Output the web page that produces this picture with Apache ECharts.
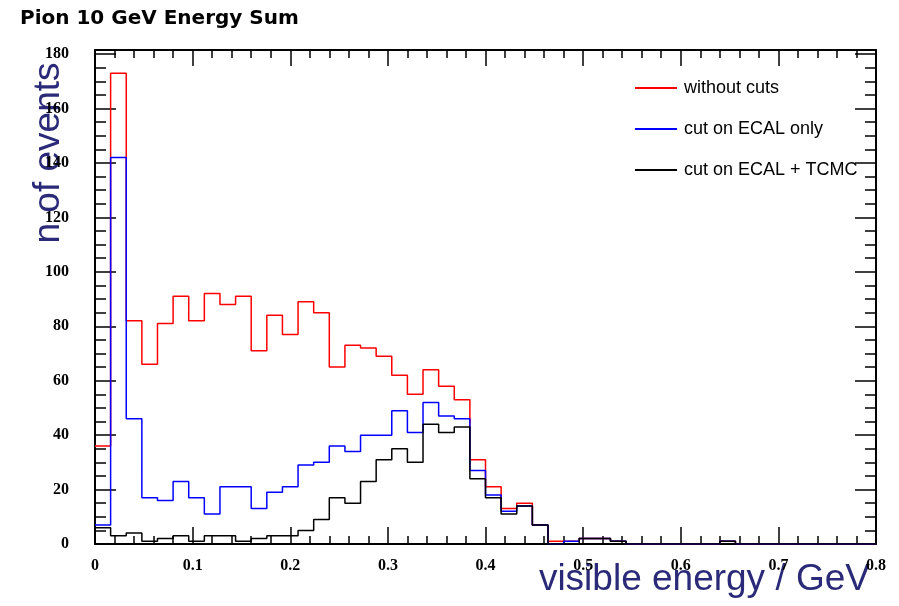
<!DOCTYPE html>
<html>
<head>
<meta charset="utf-8">
<script src="https://cdn.jsdelivr.net/npm/echarts@6/dist/echarts.min.js"></script>
<style>html,body{margin:0;padding:0;background:#fff;}#c{width:899px;height:606px;}</style>
</head>
<body>
<div id="c"></div>
<script>
// Histogram definition: 50 bins from 0 to 0.8 GeV
const xMin = 0, xMax = 0.8, nBins = 50;
const xTickLabels = ['0','0.1','0.2','0.3','0.4','0.5','0.6','0.7','0.8'];
const seriesNames = ['without cuts', 'cut on ECAL only', 'cut on ECAL + TCMC'];
// counts per bin
const withoutCuts = [36,173,82,66,81,91,82,92,88,91,71,84,77,89,85,65,73,72,69,62,55,64,58,53,31,21,13,15,7,1,1,2,2,1,0,0,0,0,0,0,1,0,0,0,0,0,0,0,0,0];
const cutEcal     = [7,142,46,17,16,23,17,11,21,21,13,19,21,29,30,36,34,40,40,49,41,52,47,46,27,18,12,14,7,0,1,2,2,1,0,0,0,0,0,0,1,0,0,0,0,0,0,0,0,0];
const cutEcalTcmc = [6,3,4,1,2,3,1,3,3,1,2,3,3,5,9,17,15,23,31,35,30,44,41,43,24,17,11,14,7,0,0,2,2,1,0,0,0,0,0,0,1,0,0,0,0,0,0,0,0,0];

const binW = (xMax - xMin) / nBins;
function stepData(vals) {
  const d = vals.map((v, i) => [xMin + i * binW, v]);
  d.push([xMax, vals[vals.length - 1]]);
  return d;
}

const chart = echarts.init(document.getElementById('c'), null, {renderer: 'canvas'});
const black = '#000';
const tickFont = {fontFamily: 'Liberation Serif', fontWeight: 'bold', fontSize: 16, color: black};
function xAx(pos, labels, major, minor) {
  return {
    type: 'value', position: pos, min: xMin, max: xMax, interval: 0.1,
    axisLine: {show: true, onZero: false, lineStyle: {color: black, width: 2}},
    axisTick: {show: true, inside: true, length: major, lineStyle: {color: black, width: 1.5}},
    minorTick: {show: true, splitNumber: 5, length: minor, lineStyle: {color: black, width: 1.5}},
    splitLine: {show: false}, minorSplitLine: {show: false},
    axisLabel: Object.assign({show: labels, margin: 14, formatter: v => xTickLabels[Math.round(v * 10)] || ''}, tickFont)
  };
}
function yAx(pos, labels) {
  return {
    type: 'value', position: pos, min: 0, max: 181.5, interval: 20,
    axisLine: {show: true, onZero: false, lineStyle: {color: black, width: 2}},
    axisTick: {show: true, inside: true, length: 21, lineStyle: {color: black, width: 1.5}},
    minorTick: {show: true, splitNumber: 4, length: 11, lineStyle: {color: black, width: 1.5}},
    splitLine: {show: false}, minorSplitLine: {show: false},
    axisLabel: Object.assign({show: labels, margin: 26, formatter: v => (Math.abs(v % 20) < 1e-9 ? String(v) : '')}, tickFont)
  };
}
const colors = ['#ff0000', '#0000ff', '#000000'];
const datasets = [withoutCuts, cutEcal, cutEcalTcmc];

chart.setOption({
  animation: false,
  backgroundColor: '#fff',
  grid: {left: 95, right: 23, top: 50, bottom: 62, containLabel: false},
  xAxis: [xAx('bottom', true, 17, 8), xAx('top', false, 16, 8)],
  yAxis: [yAx('left', true), yAx('right', false)],
  legend: {
    orient: 'vertical', left: 630, top: 74, itemGap: 23,
    itemWidth: 42, itemHeight: 2, icon: 'rect',
    textStyle: {fontFamily: 'Liberation Sans', fontSize: 18, color: black, padding: [0,0,0,2]},
    data: seriesNames
  },
  series: seriesNames.map((n, i) => ({
    name: n, type: 'line', step: 'end', xAxisIndex: 0, yAxisIndex: 0,
    showSymbol: false, symbol: 'none',
    lineStyle: {color: colors[i], width: 1.5}, itemStyle: {color: colors[i]},
    data: stepData(datasets[i]), z: 2 + i
  })),
  graphic: [
    {type: 'text', left: 20, top: 9, style: {text: 'Pion 10 GeV Energy Sum', font: 'bold 20px "DejaVu Sans"', fill: '#000'}},
    {type: 'text', x: 49, y: 153, rotation: Math.PI / 2,
     style: {text: 'n of events', font: '37px "Liberation Sans"', fill: '#2a2a78', align: 'center', verticalAlign: 'middle'}},
    {type: 'text', x: 870, y: 580,
     style: {text: 'visible energy / GeV', font: '37px "Liberation Sans"', fill: '#2a2a78', align: 'right', verticalAlign: 'middle'}}
  ]
});
</script>
</body>
</html>
